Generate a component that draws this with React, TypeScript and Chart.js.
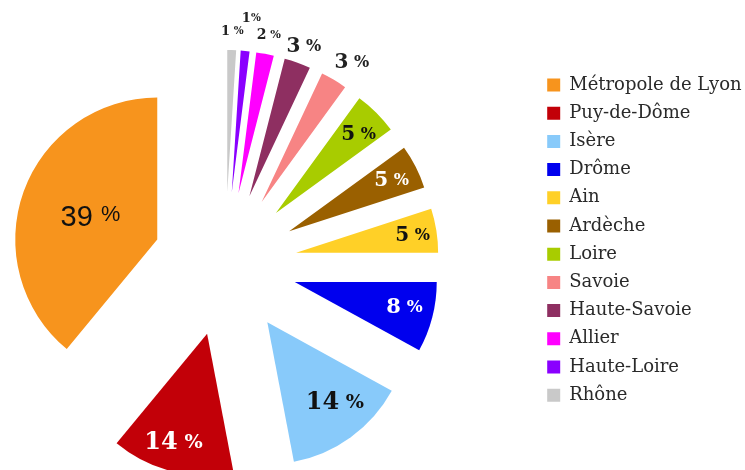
import React, { useEffect, useRef } from 'react';
import { Chart, registerables } from 'chart.js';

Chart.register(...registerables);

// ---- data (legend order) ----
const categories = [
  'Métropole de Lyon',
  'Puy-de-Dôme',
  'Isère',
  'Drôme',
  'Ain',
  'Ardèche',
  'Loire',
  'Savoie',
  'Haute-Savoie',
  'Allier',
  'Haute-Loire',
  'Rhône',
];
const shares = [39, 14, 14, 8, 5, 5, 5, 3, 3, 2, 1, 1];

// ---- styles (legend order) ----
const colors = [
  '#F7941D',
  '#C20008',
  '#88CAFA',
  '#0000EE',
  '#FFD027',
  '#9A6000',
  '#A8CC00',
  '#F78484',
  '#8E2F61',
  '#FF00FF',
  '#8A00FF',
  '#C9C9C9',
];
const labelColors = ['#111', '#fff', '#111', '#fff', '#111', '#fff', '#111', '#222', '#222', '#222', '#222', '#222'];
const labelSizes = [29, 24, 24, 21, 20, 20, 20, 20, 20, 14, 13, 13];
const labelDist = [0.5, 0.79, 0.73, 0.79, 0.83, 0.81, 0.81, 1.18, 1.13, 1.14, 1.24, 1.14];
const labelTilt = [0, 3, -4.7, -2.2, 0, 0, 1, 2, 0, 0, 1, 0]; // degrees
const labelGap = [1, 1, 1, 1, 1, 1, 1, 1, 1, 1, 0, 1];
const labelSans = [true, false, false, false, false, false, false, false, false, false, false, false];

// slices are drawn clockwise from the top starting with the smallest one
const drawOrder = categories.map((_, i) => categories.length - 1 - i);

const PIE_RADIUS = 142;
const EXPLODE = 72;
const LEGEND_FONT = { family: 'DejaVu Serif', size: 18 };
const LEGEND_PAD = 10.2;
const LEGEND_BOX = 13;

const explodePlugin = {
  id: 'explode',
  afterDatasetsUpdate(chart: any) {
    const meta = chart.getDatasetMeta(0);
    meta.data.forEach((arc: any) => {
      const mid = (arc.startAngle + arc.endAngle) / 2;
      arc.x += Math.cos(mid) * EXPLODE;
      arc.y += Math.sin(mid) * EXPLODE;
    });
  },
};

const labelPlugin = {
  id: 'sliceLabels',
  afterDatasetsDraw(chart: any) {
    const ctx = chart.ctx;
    const meta = chart.getDatasetMeta(0);
    meta.data.forEach((arc: any, i: number) => {
      const k = drawOrder[i];
      const mid = (arc.startAngle + arc.endAngle) / 2 + (labelTilt[k] * Math.PI) / 180;
      const r = arc.outerRadius * labelDist[k];
      const cx = arc.x + Math.cos(mid) * r;
      const cy = arc.y + Math.sin(mid) * r;
      const s = labelSizes[k];
      const sans = labelSans[k];
      const ps = s * (sans ? 0.75 : 0.8);
      const numFont = sans ? `${s}px "Liberation Sans"` : `bold ${s}px "DejaVu Serif"`;
      const pctFont = sans ? `${ps}px "Liberation Sans"` : `bold ${ps}px "DejaVu Serif"`;
      const num = String(shares[k]);
      ctx.save();
      ctx.fillStyle = labelColors[k];
      ctx.textBaseline = 'alphabetic';
      ctx.textAlign = 'left';
      ctx.font = numFont;
      const wn = ctx.measureText(num).width;
      const gap = labelGap[k] ? s * 0.28 : s * 0.02;
      ctx.font = pctFont;
      const wp = ctx.measureText('%').width;
      const total = wn + gap + wp;
      const x0 = cx - total / 2;
      const capN = s * 0.72;
      const capP = ps * 0.72;
      ctx.font = numFont;
      ctx.fillText(num, x0, cy + capN / 2);
      ctx.font = pctFont;
      const pBase = sans ? cy - capN / 2 + capP : cy + capP / 2;
      ctx.fillText('%', x0 + wn + gap, pBase);
      ctx.restore();
    });
  },
};

// page layout targets
const PAGE_W = 745;
const PAGE_H = 470;
const CENTER_X = 225;
const CENTER_Y = 264;
const BOX_LEFT = 547;
const FIRST_ROW_MID = 85;

export default function App() {
  const ref = useRef<HTMLCanvasElement | null>(null);
  const legendLeftPage = BOX_LEFT - LEGEND_PAD;
  const shift = Math.ceil(legendLeftPage - 2 * CENTER_X);
  const canvasW = PAGE_W + shift;

  useEffect(() => {
    const canvas = ref.current;
    if (!canvas) return;
    const mctx = canvas.getContext('2d')!;
    mctx.font = `${LEGEND_FONT.size}px "${LEGEND_FONT.family}"`;
    const tw = Math.max(...categories.map((c) => mctx.measureText(c).width));

    // canvas coordinates (canvas starts at page x = -shift)
    const cx = CENTER_X + shift;
    const legendLeft = 2 * cx; // chart area spans 0..legendLeft
    const legendWidth = LEGEND_PAD + LEGEND_BOX + LEGEND_FONT.size / 2 + tw + 10;
    const padRight = canvasW - legendLeft - legendWidth;
    const padTop = FIRST_ROW_MID - LEGEND_FONT.size / 2 - LEGEND_PAD;
    const padBottom = PAGE_H - (2 * CENTER_Y - padTop);

    const chart = new Chart(canvas, {
      type: 'pie',
      data: {
        labels: drawOrder.map((k) => categories[k]),
        datasets: [
          {
            data: drawOrder.map((k) => shares[k]),
            backgroundColor: drawOrder.map((k) => colors[k]),
            borderWidth: 0,
            hoverOffset: 0,
            offset: 0,
            radius: PIE_RADIUS,
          } as any,
        ],
      },
      options: {
        responsive: false,
        animation: false,
        events: [],
        radius: PIE_RADIUS,
        layout: { padding: { left: 0, right: padRight, top: padTop, bottom: padBottom } },
        plugins: {
          legend: {
            position: 'right',
            align: 'start',
            reverse: true,
            labels: {
              boxWidth: LEGEND_BOX,
              boxHeight: LEGEND_BOX,
              padding: LEGEND_PAD,
              color: '#2a2a2a',
              font: LEGEND_FONT,
            },
          },
          tooltip: { enabled: false },
        },
      } as any,
      plugins: [explodePlugin, labelPlugin],
    });
    return () => chart.destroy();
  }, []);

  return (
    <div
      style={{
        position: 'absolute',
        left: 0,
        top: 0,
        width: PAGE_W,
        height: PAGE_H,
        overflow: 'hidden',
        background: '#fff',
      }}
    >
      <canvas
        ref={ref}
        width={canvasW}
        height={PAGE_H}
        style={{ display: 'block', position: 'absolute', left: -shift, top: 0 }}
      />
    </div>
  );
}
